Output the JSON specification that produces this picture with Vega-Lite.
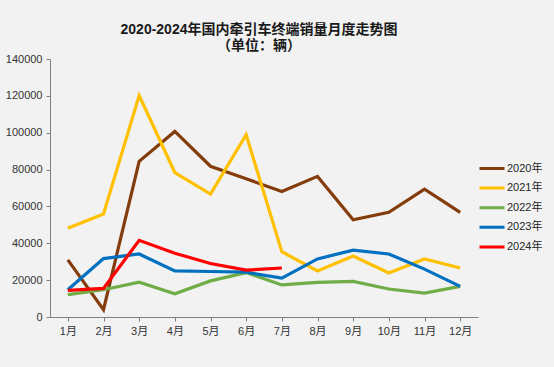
{
  "$schema": "https://vega.github.io/schema/vega-lite/v6.json",
  "autosize": "none",
  "width": 428,
  "height": 258,
  "padding": {"left": 50, "top": 59, "right": 76, "bottom": 50},
  "background": "#f2f2f2",
  "title": {
    "text": ["2020-2024年国内牵引车终端销量月度走势图", "（单位：辆）"],
    "anchor": "middle",
    "frame": "group",
    "dx": -5,
    "offset": 0,
    "fontSize": 14,
    "fontWeight": "bold",
    "lineHeight": 16,
    "color": "#1a1a1a",
    "font": "Liberation Sans, Noto Sans CJK SC"
  },
  "config": {
    "view": {"stroke": null},
    "font": "Liberation Sans, Noto Sans CJK SC"
  },
  "data": {
    "values": [
      {"m": "1月", "y": "2020年", "v": 31000},
      {"m": "2月", "y": "2020年", "v": 4000},
      {"m": "3月", "y": "2020年", "v": 84500},
      {"m": "4月", "y": "2020年", "v": 100700},
      {"m": "5月", "y": "2020年", "v": 81800},
      {"m": "6月", "y": "2020年", "v": 75000},
      {"m": "7月", "y": "2020年", "v": 68100},
      {"m": "8月", "y": "2020年", "v": 76300},
      {"m": "9月", "y": "2020年", "v": 52800},
      {"m": "10月", "y": "2020年", "v": 56800},
      {"m": "11月", "y": "2020年", "v": 69400},
      {"m": "12月", "y": "2020年", "v": 56800},
      {"m": "1月", "y": "2021年", "v": 48100},
      {"m": "2月", "y": "2021年", "v": 55900},
      {"m": "3月", "y": "2021年", "v": 120200},
      {"m": "4月", "y": "2021年", "v": 78400},
      {"m": "5月", "y": "2021年", "v": 66700},
      {"m": "6月", "y": "2021年", "v": 98900},
      {"m": "7月", "y": "2021年", "v": 35400},
      {"m": "8月", "y": "2021年", "v": 25000},
      {"m": "9月", "y": "2021年", "v": 33100},
      {"m": "10月", "y": "2021年", "v": 23900},
      {"m": "11月", "y": "2021年", "v": 31500},
      {"m": "12月", "y": "2021年", "v": 26600},
      {"m": "1月", "y": "2022年", "v": 12100},
      {"m": "2月", "y": "2022年", "v": 14800},
      {"m": "3月", "y": "2022年", "v": 18900},
      {"m": "4月", "y": "2022年", "v": 12600},
      {"m": "5月", "y": "2022年", "v": 19600},
      {"m": "6月", "y": "2022年", "v": 24100},
      {"m": "7月", "y": "2022年", "v": 17400},
      {"m": "8月", "y": "2022年", "v": 18800},
      {"m": "9月", "y": "2022年", "v": 19300},
      {"m": "10月", "y": "2022年", "v": 15200},
      {"m": "11月", "y": "2022年", "v": 13000},
      {"m": "12月", "y": "2022年", "v": 16600},
      {"m": "1月", "y": "2023年", "v": 14800},
      {"m": "2月", "y": "2023年", "v": 31700},
      {"m": "3月", "y": "2023年", "v": 34200},
      {"m": "4月", "y": "2023年", "v": 25000},
      {"m": "5月", "y": "2023年", "v": 24700},
      {"m": "6月", "y": "2023年", "v": 24300},
      {"m": "7月", "y": "2023年", "v": 21100},
      {"m": "8月", "y": "2023年", "v": 31500},
      {"m": "9月", "y": "2023年", "v": 36300},
      {"m": "10月", "y": "2023年", "v": 34200},
      {"m": "11月", "y": "2023年", "v": 26000},
      {"m": "12月", "y": "2023年", "v": 16600},
      {"m": "1月", "y": "2024年", "v": 14400},
      {"m": "2月", "y": "2024年", "v": 15500},
      {"m": "3月", "y": "2024年", "v": 41600},
      {"m": "4月", "y": "2024年", "v": 34600},
      {"m": "5月", "y": "2024年", "v": 29000},
      {"m": "6月", "y": "2024年", "v": 25400},
      {"m": "7月", "y": "2024年", "v": 26600}
    ]
  },
  "mark": {"type": "line", "strokeWidth": 3.2},
  "encoding": {
    "x": {
      "field": "m",
      "type": "ordinal",
      "sort": ["1月","2月","3月","4月","5月","6月","7月","8月","9月","10月","11月","12月"],
      "scale": {"type": "point", "padding": 0.5},
      "axis": {
        "title": null,
        "labelAngle": 0,
        "labelFontSize": 11,
        "labelColor": "#333333",
        "labelPadding": 4,
        "domainColor": "#808080",
        "tickColor": "#808080",
        "tickSize": 4,
        "tickBand": "extent"
      }
    },
    "y": {
      "field": "v",
      "type": "quantitative",
      "scale": {"domain": [0, 140000]},
      "axis": {
        "title": null,
        "values": [0, 20000, 40000, 60000, 80000, 100000, 120000, 140000],
        "format": "d",
        "grid": false,
        "labelFontSize": 11,
        "labelColor": "#333333",
        "labelPadding": 4,
        "domainColor": "#808080",
        "tickColor": "#808080",
        "tickSize": 4
      }
    },
    "color": {
      "field": "y",
      "type": "nominal",
      "scale": {
        "domain": ["2020年", "2021年", "2022年", "2023年", "2024年"],
        "range": ["#843C0C", "#FFC000", "#70AD47", "#0070C0", "#FF0000"]
      },
      "legend": {
        "title": null,
        "orient": "none",
        "legendX": 428,
        "legendY": 102,
        "symbolType": "stroke",
        "symbolSize": 625,
        "symbolStrokeWidth": 3,
        "clipHeight": 15,
        "rowPadding": 4.6,
        "labelOffset": 1,
        "labelFontSize": 11,
        "labelColor": "#262626"
      }
    }
  }
}
